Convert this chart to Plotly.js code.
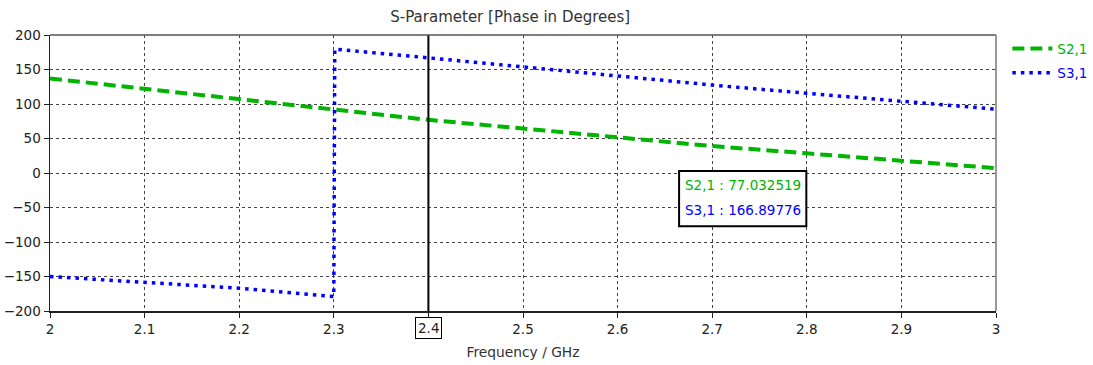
<!DOCTYPE html>
<html>
<head>
<meta charset="utf-8">
<script src="https://cdn.plot.ly/plotly-3.0.1.min.js"></script>
<style>html,body{margin:0;padding:0;background:#fff}#chart{width:1093px;height:365px}</style>
</head>
<body>
<div id="chart"></div>
<script>
// Data
const freqS21 = [2.0, 2.1, 2.2, 2.3, 2.4, 2.5, 2.6, 2.7, 2.8, 2.9, 3.0];
const phaseS21 = [137, 122, 107, 92.5, 77.032519, 64.5, 51.5, 39, 28.5, 17.5, 7];
const freqS31 = [2.0, 2.1, 2.2, 2.3, 2.301, 2.4, 2.5, 2.6, 2.7, 2.8, 2.9, 3.0];
const phaseS31 = [-150, -158, -167, -179, 179.5, 166.89776, 153.5, 140.5, 127.5, 115.5, 103.5, 92.5];
const seriesNames = ["S2,1", "S3,1"];
const markerFreq = 2.4;
const markerValues = ["77.032519", "166.89776"];
const xTickVals = [2, 2.1, 2.2, 2.3, 2.4, 2.5, 2.6, 2.7, 2.8, 2.9, 3];
const xTickText = ["2", "2.1", "2.2", "2.3", "", "2.5", "2.6", "2.7", "2.8", "2.9", "3"];
const yTickVals = [-200, -150, -100, -50, 0, 50, 100, 150, 200];

const green = "#00b400";
const blue = "#0000ff";
const font = "DejaVu Sans, Verdana, sans-serif";
const fs = 13.5;

const traces = [
  {x: freqS21, y: phaseS21, name: seriesNames[0], mode: "lines",
   line: {color: green, width: 4, dash: "12px,6px"}, legend: "legend"},
  {x: freqS31, y: phaseS31, name: seriesNames[1], mode: "lines",
   line: {color: blue, width: 3.5, dash: "3.5px,5px"}, legend: "legend2"}
];

// readout box placement (paper fractions of the plot area)
const box = {x0: 0.665, x1: 0.7995, y0: 0.307, y1: 0.507};

const layout = {
  width: 1093, height: 365,
  margin: {l: 50, r: 97, t: 35, b: 54, autoexpand: false},
  paper_bgcolor: "#fff", plot_bgcolor: "#fff",
  font: {family: font, size: fs, color: "#222"},
  hovermode: false,
  title: {text: "S-Parameter [Phase in Degrees]", x: 0.4865, xref: "paper", xanchor: "center",
          y: 0.955, yanchor: "middle",
          font: {family: font, size: 15, color: "#333"}},
  xaxis: {range: [2, 3], tickvals: xTickVals, ticktext: xTickText, tickmode: "array",
          showgrid: true, gridcolor: "#444", griddash: "3px,3px", gridwidth: 1,
          showline: true, linecolor: "#222", linewidth: 1.5, mirror: false,
          ticks: "outside", ticklen: 5, tickcolor: "#222", zeroline: false,
          tickfont: {family: font, size: fs, color: "#222"},
          title: {text: "Frequency / GHz", standoff: 11, font: {family: font, size: 13.8, color: "#333"}}},
  yaxis: {range: [-200, 200], tickvals: yTickVals, tickmode: "array",
          showgrid: true, gridcolor: "#444", griddash: "3px,3px", gridwidth: 1,
          showline: true, linecolor: "#222", linewidth: 1.5,
          ticks: "outside", ticklen: 5, tickcolor: "#222", zeroline: false,
          tickfont: {family: font, size: fs, color: "#222"}},
  showlegend: true,
  legend: {x: 1.012, xanchor: "left", y: 0.95, yanchor: "middle", bgcolor: "rgba(0,0,0,0)",
           font: {family: font, size: fs, color: green}, itemwidth: 40, tracegroupgap: 0},
  legend2: {x: 1.012, xanchor: "left", y: 0.862, yanchor: "middle", bgcolor: "rgba(0,0,0,0)",
           font: {family: font, size: fs, color: blue}, itemwidth: 40, tracegroupgap: 0},
  shapes: [
    {type: "line", xref: "x", yref: "paper", x0: markerFreq, x1: markerFreq, y0: 0, y1: 1,
     line: {color: "#000", width: 2}},
    {type: "line", xref: "paper", yref: "paper", x0: 0, x1: 1, y0: 1, y1: 1, line: {color: "#555", width: 1.5}},
    {type: "line", xref: "paper", yref: "paper", x0: 1, x1: 1, y0: 0, y1: 1, line: {color: "#777", width: 1.5}},
    {type: "rect", xref: "paper", yref: "paper", x0: box.x0, x1: box.x1, y0: box.y0, y1: box.y1,
     fillcolor: "#fff", line: {color: "#000", width: 2}, layer: "above"}
  ],
  annotations: [
    {xref: "x", yref: "paper", x: markerFreq, y: 0, yanchor: "middle", yshift: -17, text: String(markerFreq),
     showarrow: false, font: {family: font, size: fs, color: "#222"},
     bordercolor: "#000", borderwidth: 1, borderpad: 2, bgcolor: "#fff"},
    {xref: "paper", yref: "paper", x: box.x0, xshift: 4, xanchor: "left", y: box.y1, yshift: -14, yanchor: "middle",
     showarrow: false, text: seriesNames[0] + " : " + markerValues[0], font: {family: font, size: fs, color: green}},
    {xref: "paper", yref: "paper", x: box.x0, xshift: 4, xanchor: "left", y: box.y1, yshift: -39, yanchor: "middle",
     showarrow: false, text: seriesNames[1] + " : " + markerValues[1], font: {family: font, size: fs, color: blue}}
  ]
};

Plotly.newPlot("chart", traces, layout, {displayModeBar: false, staticPlot: true});
</script>
</body>
</html>
